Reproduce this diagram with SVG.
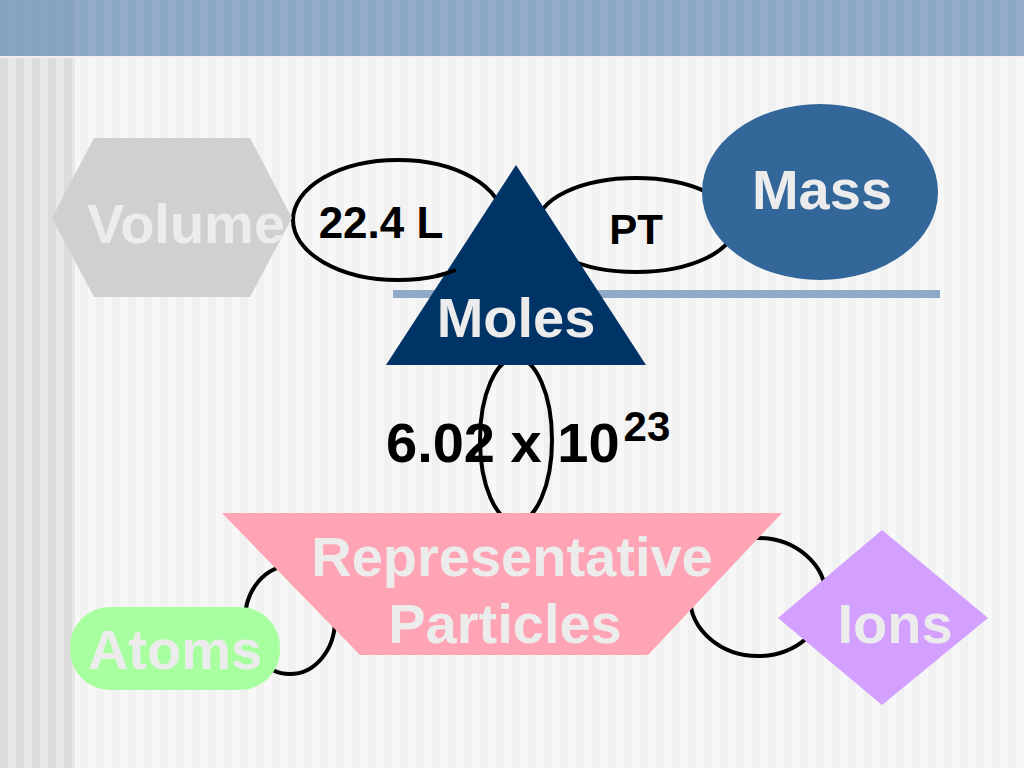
<svg xmlns="http://www.w3.org/2000/svg" width="1024" height="768" viewBox="0 0 1024 768">
<defs>
<style>
.lbl{font-family:"Liberation Sans",Arial,sans-serif;font-weight:bold;font-size:56px;text-anchor:middle;fill:#ececec}
.blk{font-family:"Liberation Sans",Arial,sans-serif;font-weight:bold;fill:#000}
.link{fill:none;stroke:#000;stroke-width:4}
</style>
<pattern id="bg" width="16" height="16" patternUnits="userSpaceOnUse">
<rect width="16" height="16" fill="#f1f1f1"/><rect x="8" width="8" height="16" fill="#f7f7f7"/>
</pattern>
<pattern id="bgl" width="16" height="16" patternUnits="userSpaceOnUse">
<rect width="16" height="16" fill="#dcdcdc"/><rect x="8" width="8" height="16" fill="#e8e8e8"/>
</pattern>
<pattern id="bar" width="16" height="16" patternUnits="userSpaceOnUse">
<rect width="16" height="16" fill="#8ba7c5"/><rect x="8" width="8" height="16" fill="#93adc9"/>
</pattern>
</defs>
<rect width="1024" height="768" fill="url(#bg)"/>
<rect width="75" height="768" fill="url(#bgl)"/>
<rect width="1024" height="56" fill="url(#bar)"/>
<rect width="75" height="56" fill="#7f9dbe" opacity="0.5"/>
<rect y="56" width="1024" height="2" fill="#f6eeee"/>
<line x1="393" y1="294" x2="940" y2="294" stroke="#8eaac8" stroke-width="8"/>
<g id="connectors">
<ellipse class="link" cx="398" cy="220" rx="105" ry="60"/>
<ellipse class="link" cx="636" cy="225" rx="99" ry="47"/>
<ellipse class="link" cx="516" cy="440" rx="36" ry="82"/>
<ellipse class="link" cx="290" cy="620" rx="45" ry="54"/>
<ellipse class="link" cx="758" cy="597" rx="68" ry="59"/>
</g>
<g id="volume">
<polygon points="52,218 94,138 250,138 292,218 250,297 94,297" fill="#d0d0d0"/>
<text class="lbl" x="186" y="243">Volume</text>
</g>
<g id="mass">
<ellipse cx="820" cy="192" rx="118" ry="88" fill="#336699"/>
<text class="lbl" x="822" y="209">Mass</text>
</g>
<g id="moles">
<polygon points="516,165 646,365 386,365" fill="#003366"/>
<text class="lbl" x="516" y="337">Moles</text>
</g>
<path class="link" d="M436,276 A105,60 0 0 0 456,270"/>
<g id="label-224">
<text class="blk" x="381" y="238" font-size="44" text-anchor="middle">22.4 L</text>
</g>
<g id="label-pt">
<text class="blk" x="636" y="244" font-size="42" text-anchor="middle">PT</text>
</g>
<g id="label-avogadro">
<text class="blk" x="386" y="462" font-size="56">6.02 x 10<tspan font-size="42" dx="4" dy="-21">23</tspan></text>
</g>
<g id="rep">
<polygon points="222,513 782,513 648,655 360,655" fill="#ffa4b4"/>
<text class="lbl" x="512" y="576">Representative</text>
<text class="lbl" x="505" y="643">Particles</text>
</g>
<g id="atoms">
<rect x="70" y="607" width="210" height="83" rx="40" fill="#a8ffa0"/>
<text class="lbl" x="175" y="669">Atoms</text>
</g>
<g id="ions">
<polygon points="778,618 882,530 988,618 882,705" fill="#d4a0ff"/>
<text class="lbl" x="895" y="643">Ions</text>
</g>
</svg>
